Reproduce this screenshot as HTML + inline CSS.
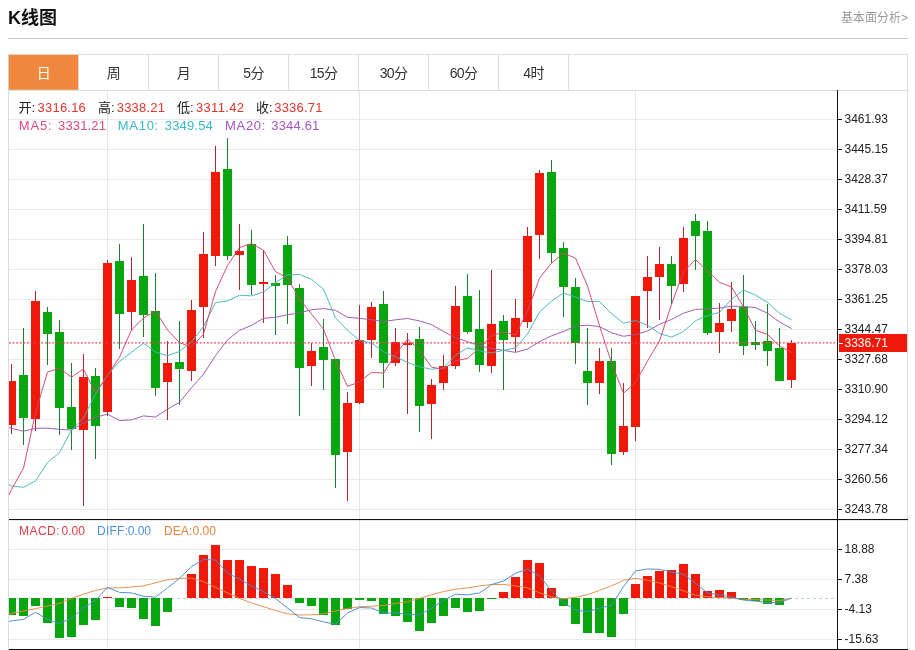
<!DOCTYPE html>
<html lang="zh-CN"><head><meta charset="utf-8"><title>K线图</title>
<style>
html,body{margin:0;padding:0;background:#fff;}
body{width:915px;height:650px;overflow:hidden;position:relative;font-family:"Liberation Sans","Noto Sans CJK SC",sans-serif;}
svg{position:absolute;left:0;top:0;display:block;}
text{font-family:"Liberation Sans","Noto Sans CJK SC",sans-serif;}
.ax{font-size:12px;fill:#222;}
.tab{font-size:14px;fill:#333;text-anchor:middle;letter-spacing:-0.7px;}
.lg{font-size:13px;}
.mg{font-size:12px;}
</style></head><body>
<svg width="915" height="650" viewBox="0 0 915 650">
<defs><clipPath id="cp"><rect x="9" y="91" width="828" height="558"/></clipPath></defs>
<text x="8" y="23.6" font-size="18" font-weight="bold" fill="#111">K线图</text>
<text x="908" y="21.5" font-size="12" fill="#999" text-anchor="end">基本面分析&gt;</text>
<rect x="8" y="38" width="900" height="1" fill="#c8c8c8"/>
<rect x="8" y="54" width="900" height="1" fill="#dcdcdc"/>
<rect x="8" y="54" width="1" height="596" fill="#d9dcdf"/>
<rect x="907" y="54" width="1" height="596" fill="#dcdcdc"/>
<rect x="8" y="90" width="900" height="1" fill="#dcdcdc"/>
<rect x="8.8" y="54.9" width="69.2" height="34.9" fill="#f0873c"/>
<rect x="78" y="55" width="1" height="35" fill="#dcdcdc"/>
<text class="tab" x="43.5" y="77.5" style="fill:#fff">日</text>
<rect x="148" y="55" width="1" height="35" fill="#dcdcdc"/>
<text class="tab" x="113.5" y="77.5" style="fill:#333">周</text>
<rect x="218" y="55" width="1" height="35" fill="#dcdcdc"/>
<text class="tab" x="183.5" y="77.5" style="fill:#333">月</text>
<rect x="288" y="55" width="1" height="35" fill="#dcdcdc"/>
<text class="tab" x="253.5" y="77.5" style="fill:#333">5分</text>
<rect x="358" y="55" width="1" height="35" fill="#dcdcdc"/>
<text class="tab" x="323.5" y="77.5" style="fill:#333">15分</text>
<rect x="428" y="55" width="1" height="35" fill="#dcdcdc"/>
<text class="tab" x="393.5" y="77.5" style="fill:#333">30分</text>
<rect x="498" y="55" width="1" height="35" fill="#dcdcdc"/>
<text class="tab" x="463.5" y="77.5" style="fill:#333">60分</text>
<rect x="568" y="55" width="1" height="35" fill="#dcdcdc"/>
<text class="tab" x="533.5" y="77.5" style="fill:#333">4时</text>
<rect x="9" y="119" width="828" height="1" fill="#e9e9e9"/>
<rect x="9" y="149" width="828" height="1" fill="#e9e9e9"/>
<rect x="9" y="179" width="828" height="1" fill="#e9e9e9"/>
<rect x="9" y="209" width="828" height="1" fill="#e9e9e9"/>
<rect x="9" y="239" width="828" height="1" fill="#e9e9e9"/>
<rect x="9" y="269" width="828" height="1" fill="#e9e9e9"/>
<rect x="9" y="299" width="828" height="1" fill="#e9e9e9"/>
<rect x="9" y="329" width="828" height="1" fill="#e9e9e9"/>
<rect x="9" y="359" width="828" height="1" fill="#e9e9e9"/>
<rect x="9" y="389" width="828" height="1" fill="#e9e9e9"/>
<rect x="9" y="419" width="828" height="1" fill="#e9e9e9"/>
<rect x="9" y="449" width="828" height="1" fill="#e9e9e9"/>
<rect x="9" y="479" width="828" height="1" fill="#e9e9e9"/>
<rect x="9" y="509" width="828" height="1" fill="#e9e9e9"/>
<rect x="9" y="549" width="828" height="1" fill="#e9e9e9"/>
<rect x="9" y="579" width="828" height="1" fill="#e9e9e9"/>
<rect x="9" y="609" width="828" height="1" fill="#e9e9e9"/>
<rect x="9" y="639" width="828" height="1" fill="#e9e9e9"/>
<rect x="107" y="91" width="1" height="558" fill="#dfe6ee"/>
<rect x="359" y="91" width="1" height="558" fill="#dfe6ee"/>
<rect x="635" y="91" width="1" height="558" fill="#dfe6ee"/>
<line x1="9" y1="598.5" x2="837" y2="598.5" stroke="#bfd5e6" stroke-width="1" stroke-dasharray="3,3"/>
<g clip-path="url(#cp)">
<g shape-rendering="crispEdges">
<rect x="11" y="364" width="1" height="70" fill="#b3262b"/>
<rect x="7" y="381" width="9" height="44" fill="#f01808"/>
<rect x="23" y="328" width="1" height="117" fill="#1f7f30"/>
<rect x="19" y="375" width="9" height="43" fill="#07a60e"/>
<rect x="35" y="291" width="1" height="140" fill="#b3262b"/>
<rect x="31" y="301" width="9" height="118" fill="#f01808"/>
<rect x="47" y="307" width="1" height="58" fill="#1f7f30"/>
<rect x="43" y="312" width="9" height="22" fill="#07a60e"/>
<rect x="59" y="320" width="1" height="115" fill="#1f7f30"/>
<rect x="55" y="332" width="9" height="76" fill="#07a60e"/>
<rect x="71" y="363" width="1" height="87" fill="#1f7f30"/>
<rect x="67" y="407" width="9" height="22" fill="#07a60e"/>
<rect x="83" y="354" width="1" height="152" fill="#b3262b"/>
<rect x="79" y="377" width="9" height="53" fill="#f01808"/>
<rect x="95" y="368" width="1" height="91" fill="#1f7f30"/>
<rect x="91" y="376" width="9" height="50" fill="#07a60e"/>
<rect x="107" y="260" width="1" height="156" fill="#b3262b"/>
<rect x="103" y="263" width="9" height="149" fill="#f01808"/>
<rect x="119" y="244" width="1" height="105" fill="#1f7f30"/>
<rect x="115" y="261" width="9" height="53" fill="#07a60e"/>
<rect x="131" y="257" width="1" height="73" fill="#b3262b"/>
<rect x="127" y="280" width="9" height="32" fill="#f01808"/>
<rect x="143" y="224" width="1" height="113" fill="#1f7f30"/>
<rect x="139" y="276" width="9" height="39" fill="#07a60e"/>
<rect x="155" y="273" width="1" height="123" fill="#1f7f30"/>
<rect x="151" y="311" width="9" height="77" fill="#07a60e"/>
<rect x="167" y="341" width="1" height="79" fill="#b3262b"/>
<rect x="163" y="363" width="9" height="19" fill="#f01808"/>
<rect x="179" y="321" width="1" height="84" fill="#1f7f30"/>
<rect x="175" y="362" width="9" height="7" fill="#07a60e"/>
<rect x="191" y="300" width="1" height="81" fill="#b3262b"/>
<rect x="187" y="310" width="9" height="61" fill="#f01808"/>
<rect x="203" y="232" width="1" height="106" fill="#b3262b"/>
<rect x="199" y="254" width="9" height="53" fill="#f01808"/>
<rect x="215" y="146" width="1" height="120" fill="#b3262b"/>
<rect x="211" y="172" width="9" height="84" fill="#f01808"/>
<rect x="227" y="138" width="1" height="122" fill="#1f7f30"/>
<rect x="223" y="169" width="9" height="87" fill="#07a60e"/>
<rect x="239" y="224" width="1" height="66" fill="#b3262b"/>
<rect x="235" y="251" width="9" height="4" fill="#f01808"/>
<rect x="251" y="230" width="1" height="65" fill="#1f7f30"/>
<rect x="247" y="244" width="9" height="41" fill="#07a60e"/>
<rect x="263" y="250" width="1" height="73" fill="#b3262b"/>
<rect x="259" y="282" width="9" height="2" fill="#f01808"/>
<rect x="275" y="275" width="1" height="60" fill="#1f7f30"/>
<rect x="271" y="283" width="9" height="3" fill="#07a60e"/>
<rect x="287" y="236" width="1" height="88" fill="#1f7f30"/>
<rect x="283" y="245" width="9" height="40" fill="#07a60e"/>
<rect x="299" y="284" width="1" height="132" fill="#1f7f30"/>
<rect x="295" y="288" width="9" height="80" fill="#07a60e"/>
<rect x="311" y="343" width="1" height="43" fill="#b3262b"/>
<rect x="307" y="351" width="9" height="15" fill="#f01808"/>
<rect x="323" y="319" width="1" height="71" fill="#1f7f30"/>
<rect x="319" y="347" width="9" height="13" fill="#07a60e"/>
<rect x="335" y="359" width="1" height="129" fill="#1f7f30"/>
<rect x="331" y="359" width="9" height="96" fill="#07a60e"/>
<rect x="347" y="392" width="1" height="109" fill="#b3262b"/>
<rect x="343" y="403" width="9" height="49" fill="#f01808"/>
<rect x="359" y="305" width="1" height="99" fill="#b3262b"/>
<rect x="355" y="340" width="9" height="63" fill="#f01808"/>
<rect x="371" y="302" width="1" height="56" fill="#b3262b"/>
<rect x="367" y="307" width="9" height="33" fill="#f01808"/>
<rect x="383" y="291" width="1" height="97" fill="#1f7f30"/>
<rect x="379" y="304" width="9" height="59" fill="#07a60e"/>
<rect x="395" y="328" width="1" height="38" fill="#b3262b"/>
<rect x="391" y="342" width="9" height="21" fill="#f01808"/>
<rect x="407" y="333" width="1" height="81" fill="#b3262b"/>
<rect x="403" y="343" width="9" height="2" fill="#f01808"/>
<rect x="419" y="327" width="1" height="105" fill="#1f7f30"/>
<rect x="415" y="339" width="9" height="67" fill="#07a60e"/>
<rect x="431" y="379" width="1" height="60" fill="#b3262b"/>
<rect x="427" y="385" width="9" height="19" fill="#f01808"/>
<rect x="443" y="355" width="1" height="35" fill="#b3262b"/>
<rect x="439" y="366" width="9" height="17" fill="#f01808"/>
<rect x="455" y="286" width="1" height="83" fill="#b3262b"/>
<rect x="451" y="306" width="9" height="60" fill="#f01808"/>
<rect x="467" y="274" width="1" height="60" fill="#1f7f30"/>
<rect x="463" y="296" width="9" height="36" fill="#07a60e"/>
<rect x="479" y="290" width="1" height="82" fill="#1f7f30"/>
<rect x="475" y="329" width="9" height="36" fill="#07a60e"/>
<rect x="491" y="270" width="1" height="103" fill="#b3262b"/>
<rect x="487" y="324" width="9" height="42" fill="#f01808"/>
<rect x="503" y="315" width="1" height="75" fill="#1f7f30"/>
<rect x="499" y="321" width="9" height="19" fill="#07a60e"/>
<rect x="515" y="299" width="1" height="53" fill="#b3262b"/>
<rect x="511" y="318" width="9" height="19" fill="#f01808"/>
<rect x="527" y="227" width="1" height="101" fill="#b3262b"/>
<rect x="523" y="236" width="9" height="86" fill="#f01808"/>
<rect x="539" y="170" width="1" height="89" fill="#b3262b"/>
<rect x="535" y="173" width="9" height="62" fill="#f01808"/>
<rect x="551" y="160" width="1" height="103" fill="#1f7f30"/>
<rect x="547" y="172" width="9" height="81" fill="#07a60e"/>
<rect x="563" y="242" width="1" height="75" fill="#1f7f30"/>
<rect x="559" y="248" width="9" height="39" fill="#07a60e"/>
<rect x="575" y="278" width="1" height="86" fill="#1f7f30"/>
<rect x="571" y="287" width="9" height="56" fill="#07a60e"/>
<rect x="587" y="328" width="1" height="77" fill="#1f7f30"/>
<rect x="583" y="371" width="9" height="12" fill="#07a60e"/>
<rect x="599" y="348" width="1" height="46" fill="#b3262b"/>
<rect x="595" y="361" width="9" height="22" fill="#f01808"/>
<rect x="611" y="348" width="1" height="117" fill="#1f7f30"/>
<rect x="607" y="361" width="9" height="93" fill="#07a60e"/>
<rect x="623" y="383" width="1" height="72" fill="#b3262b"/>
<rect x="619" y="426" width="9" height="26" fill="#f01808"/>
<rect x="635" y="296" width="1" height="145" fill="#b3262b"/>
<rect x="631" y="296" width="9" height="131" fill="#f01808"/>
<rect x="647" y="256" width="1" height="72" fill="#b3262b"/>
<rect x="643" y="277" width="9" height="14" fill="#f01808"/>
<rect x="659" y="247" width="1" height="73" fill="#b3262b"/>
<rect x="655" y="264" width="9" height="13" fill="#f01808"/>
<rect x="671" y="256" width="1" height="48" fill="#1f7f30"/>
<rect x="667" y="264" width="9" height="22" fill="#07a60e"/>
<rect x="683" y="227" width="1" height="65" fill="#b3262b"/>
<rect x="679" y="238" width="9" height="46" fill="#f01808"/>
<rect x="695" y="214" width="1" height="56" fill="#1f7f30"/>
<rect x="691" y="221" width="9" height="15" fill="#07a60e"/>
<rect x="707" y="221" width="1" height="114" fill="#1f7f30"/>
<rect x="703" y="231" width="9" height="102" fill="#07a60e"/>
<rect x="719" y="303" width="1" height="50" fill="#b3262b"/>
<rect x="715" y="323" width="9" height="9" fill="#f01808"/>
<rect x="731" y="282" width="1" height="50" fill="#b3262b"/>
<rect x="727" y="309" width="9" height="12" fill="#f01808"/>
<rect x="743" y="275" width="1" height="80" fill="#1f7f30"/>
<rect x="739" y="307" width="9" height="39" fill="#07a60e"/>
<rect x="755" y="321" width="1" height="29" fill="#1f7f30"/>
<rect x="751" y="342" width="9" height="3" fill="#07a60e"/>
<rect x="767" y="304" width="1" height="62" fill="#1f7f30"/>
<rect x="763" y="341" width="9" height="10" fill="#07a60e"/>
<rect x="779" y="328" width="1" height="53" fill="#1f7f30"/>
<rect x="775" y="348" width="9" height="33" fill="#07a60e"/>
<rect x="791" y="340" width="1" height="48" fill="#b3262b"/>
<rect x="787" y="343" width="9" height="37" fill="#f01808"/>
</g>
<line x1="9" y1="342.9" x2="837" y2="342.9" stroke="#ee3c58" stroke-width="1.3" stroke-dasharray="1.8,1.8"/>
<polyline points="-0.5,425.0 11.5,428.3 23.5,431.2 35.5,428.4 47.5,428.2 59.5,429.4 71.5,430.0 83.5,422.9 95.5,417.4 107.5,414.1 119.5,420.6 131.5,419.9 143.5,415.9 155.5,417.1 167.5,409.1 179.5,402.3 191.5,387.7 203.5,374.2 215.5,355.5 227.5,339.9 239.5,330.4 251.5,325.4 263.5,318.3 275.5,317.3 287.5,314.8 299.5,312.8 311.5,309.8 323.5,308.5 335.5,310.3 347.5,317.3 359.5,318.3 371.5,319.8 383.5,321.6 395.5,319.8 407.5,318.5 419.5,320.9 431.5,324.6 443.5,331.5 455.5,337.8 467.5,341.6 479.5,345.9 491.5,348.4 503.5,350.4 515.5,352.4 527.5,349.1 539.5,341.6 551.5,335.8 563.5,331.5 575.5,326.0 587.5,325.2 599.5,326.6 611.5,332.8 623.5,336.3 635.5,334.5 647.5,331.0 659.5,324.3 671.5,319.5 683.5,313.2 695.5,309.4 707.5,308.9 719.5,308.1 731.5,306.1 743.5,306.4 755.5,307.6 767.5,313.2 779.5,322.0 791.5,328.5" fill="none" stroke="#9858ae" stroke-width="0.95" stroke-linejoin="round"/>
<polyline points="-0.5,479.0 11.5,486.0 23.5,487.3 35.5,481.0 47.5,462.4 59.5,452.6 71.5,430.0 83.5,417.9 95.5,394.0 107.5,375.1 119.5,361.4 131.5,352.2 143.5,343.2 155.5,352.0 167.5,355.7 179.5,351.5 191.5,341.9 203.5,326.7 215.5,302.5 227.5,301.0 239.5,295.2 251.5,295.9 263.5,292.0 275.5,282.6 287.5,274.8 299.5,274.5 311.5,279.2 323.5,289.2 335.5,317.8 347.5,330.4 359.5,340.4 371.5,343.0 383.5,351.8 395.5,356.8 407.5,362.4 419.5,366.7 431.5,369.3 443.5,368.0 455.5,355.4 467.5,347.9 479.5,350.9 491.5,352.9 503.5,350.4 515.5,347.9 527.5,334.0 539.5,312.0 551.5,301.1 563.5,293.0 575.5,297.0 587.5,301.5 599.5,301.4 611.5,313.5 623.5,323.3 635.5,320.6 647.5,325.2 659.5,333.5 671.5,337.1 683.5,331.5 695.5,320.7 707.5,315.7 719.5,312.4 731.5,299.4 743.5,290.0 755.5,295.1 767.5,302.4 779.5,313.2 791.5,320.0" fill="none" stroke="#45b5ba" stroke-width="0.95" stroke-linejoin="round"/>
<polyline points="-0.5,515.0 11.5,489.5 23.5,468.1 35.5,412.8 47.5,372.0 59.5,368.2 71.5,377.1 83.5,369.0 95.5,392.7 107.5,375.5 119.5,357.2 131.5,329.9 143.5,318.0 155.5,311.0 167.5,329.9 179.5,342.7 191.5,347.0 203.5,334.0 215.5,291.5 227.5,265.5 239.5,247.6 251.5,243.6 263.5,250.2 275.5,271.6 287.5,278.0 299.5,299.0 311.5,314.0 323.5,329.1 335.5,360.6 347.5,386.4 359.5,381.9 371.5,372.4 383.5,373.1 395.5,354.3 407.5,339.2 419.5,349.8 431.5,367.2 443.5,369.2 455.5,360.9 467.5,358.4 479.5,347.9 491.5,335.8 503.5,332.0 515.5,334.8 527.5,311.2 539.5,278.2 551.5,263.1 563.5,253.1 575.5,258.1 587.5,286.0 599.5,325.7 611.5,363.0 623.5,393.2 635.5,382.6 647.5,361.0 659.5,340.8 671.5,304.4 683.5,271.7 695.5,259.6 707.5,270.9 719.5,282.5 731.5,286.8 743.5,306.9 755.5,330.3 767.5,334.5 779.5,345.9 791.5,352.5" fill="none" stroke="#d6436f" stroke-width="0.95" stroke-linejoin="round"/>
<g shape-rendering="crispEdges">
<rect x="7" y="598" width="9" height="17" fill="#07a60e"/>
<rect x="19" y="598" width="9" height="18" fill="#07a60e"/>
<rect x="31" y="598" width="9" height="8" fill="#07a60e"/>
<rect x="43" y="598" width="9" height="25" fill="#07a60e"/>
<rect x="55" y="598" width="9" height="40" fill="#07a60e"/>
<rect x="67" y="598" width="9" height="39" fill="#07a60e"/>
<rect x="79" y="598" width="9" height="27" fill="#07a60e"/>
<rect x="91" y="598" width="9" height="22" fill="#07a60e"/>
<rect x="103" y="597" width="9" height="1" fill="#f01808"/>
<rect x="115" y="598" width="9" height="9" fill="#07a60e"/>
<rect x="127" y="598" width="9" height="10" fill="#07a60e"/>
<rect x="139" y="598" width="9" height="21" fill="#07a60e"/>
<rect x="151" y="598" width="9" height="28" fill="#07a60e"/>
<rect x="163" y="598" width="9" height="14" fill="#07a60e"/>
<rect x="187" y="574" width="9" height="24" fill="#f01808"/>
<rect x="199" y="555" width="9" height="43" fill="#f01808"/>
<rect x="211" y="545" width="9" height="53" fill="#f01808"/>
<rect x="223" y="560" width="9" height="38" fill="#f01808"/>
<rect x="235" y="560" width="9" height="38" fill="#f01808"/>
<rect x="247" y="566" width="9" height="32" fill="#f01808"/>
<rect x="259" y="568" width="9" height="30" fill="#f01808"/>
<rect x="271" y="574" width="9" height="24" fill="#f01808"/>
<rect x="283" y="585" width="9" height="13" fill="#f01808"/>
<rect x="295" y="598" width="9" height="5" fill="#07a60e"/>
<rect x="307" y="598" width="9" height="8" fill="#07a60e"/>
<rect x="319" y="598" width="9" height="17" fill="#07a60e"/>
<rect x="331" y="598" width="9" height="27" fill="#07a60e"/>
<rect x="343" y="598" width="9" height="11" fill="#07a60e"/>
<rect x="355" y="598" width="9" height="2" fill="#07a60e"/>
<rect x="367" y="598" width="9" height="3" fill="#07a60e"/>
<rect x="379" y="598" width="9" height="16" fill="#07a60e"/>
<rect x="391" y="598" width="9" height="18" fill="#07a60e"/>
<rect x="403" y="598" width="9" height="24" fill="#07a60e"/>
<rect x="415" y="598" width="9" height="33" fill="#07a60e"/>
<rect x="427" y="598" width="9" height="25" fill="#07a60e"/>
<rect x="439" y="598" width="9" height="18" fill="#07a60e"/>
<rect x="451" y="598" width="9" height="10" fill="#07a60e"/>
<rect x="463" y="598" width="9" height="14" fill="#07a60e"/>
<rect x="475" y="598" width="9" height="13" fill="#07a60e"/>
<rect x="487" y="598" width="9" height="1" fill="#07a60e"/>
<rect x="499" y="592" width="9" height="6" fill="#f01808"/>
<rect x="511" y="577" width="9" height="21" fill="#f01808"/>
<rect x="523" y="560" width="9" height="38" fill="#f01808"/>
<rect x="535" y="563" width="9" height="35" fill="#f01808"/>
<rect x="547" y="588" width="9" height="10" fill="#f01808"/>
<rect x="559" y="598" width="9" height="8" fill="#07a60e"/>
<rect x="571" y="598" width="9" height="26" fill="#07a60e"/>
<rect x="583" y="598" width="9" height="35" fill="#07a60e"/>
<rect x="595" y="598" width="9" height="35" fill="#07a60e"/>
<rect x="607" y="598" width="9" height="39" fill="#07a60e"/>
<rect x="619" y="598" width="9" height="16" fill="#07a60e"/>
<rect x="631" y="584" width="9" height="14" fill="#f01808"/>
<rect x="643" y="576" width="9" height="22" fill="#f01808"/>
<rect x="655" y="571" width="9" height="27" fill="#f01808"/>
<rect x="667" y="570" width="9" height="28" fill="#f01808"/>
<rect x="679" y="564" width="9" height="34" fill="#f01808"/>
<rect x="691" y="574" width="9" height="24" fill="#f01808"/>
<rect x="703" y="591" width="9" height="7" fill="#f01808"/>
<rect x="715" y="590" width="9" height="8" fill="#f01808"/>
<rect x="727" y="592" width="9" height="6" fill="#f01808"/>
<rect x="739" y="598" width="9" height="2" fill="#07a60e"/>
<rect x="751" y="598" width="9" height="3" fill="#07a60e"/>
<rect x="763" y="598" width="9" height="6" fill="#07a60e"/>
<rect x="775" y="598" width="9" height="7" fill="#07a60e"/>
</g>
<polyline points="-0.5,615.0 11.5,613.3 23.5,611.0 35.5,608.7 47.5,606.0 59.5,603.5 71.5,598.4 83.5,594.2 95.5,590.4 107.5,587.9 119.5,587.9 131.5,587.1 143.5,585.9 155.5,582.8 167.5,579.8 179.5,578.3 191.5,578.3 203.5,581.6 215.5,587.4 227.5,592.9 239.5,598.4 251.5,603.0 263.5,606.7 275.5,610.5 287.5,613.8 299.5,615.0 311.5,614.8 323.5,613.8 335.5,611.0 347.5,608.5 359.5,606.7 371.5,606.2 383.5,605.5 395.5,603.5 407.5,601.7 419.5,598.4 431.5,594.7 443.5,591.6 455.5,589.1 467.5,587.9 479.5,585.9 491.5,584.6 503.5,584.4 515.5,585.9 527.5,587.9 539.5,592.8 551.5,596.8 563.5,598.7 575.5,597.4 587.5,594.7 599.5,590.4 611.5,585.9 623.5,580.3 635.5,578.3 647.5,580.3 659.5,583.0 671.5,586.6 683.5,590.9 695.5,595.2 707.5,596.7 719.5,597.4 731.5,598.4 743.5,599.2 755.5,599.7 767.5,600.0 779.5,600.6 791.5,598.2" fill="none" stroke="#ea8a42" stroke-width="0.95" stroke-linejoin="round"/>
<polyline points="-0.5,622.0 11.5,621.0 23.5,619.3 35.5,612.3 47.5,619.3 59.5,623.8 71.5,618.0 83.5,608.0 95.5,600.4 107.5,587.4 119.5,592.4 131.5,592.9 143.5,596.2 155.5,597.2 167.5,587.9 179.5,578.3 191.5,566.5 203.5,559.5 215.5,560.0 227.5,573.0 239.5,579.1 251.5,585.9 263.5,591.6 275.5,598.4 287.5,608.0 299.5,617.5 311.5,618.8 323.5,621.8 335.5,624.3 347.5,613.0 359.5,607.5 371.5,608.0 383.5,613.0 395.5,613.0 407.5,614.3 419.5,615.0 431.5,608.0 443.5,600.4 455.5,594.2 467.5,594.9 479.5,592.9 491.5,584.6 503.5,581.1 515.5,573.3 527.5,569.0 539.5,575.8 551.5,591.1 563.5,602.5 575.5,610.0 587.5,611.8 599.5,608.0 611.5,605.5 623.5,586.6 635.5,571.0 647.5,569.0 659.5,569.3 671.5,572.2 683.5,574.3 695.5,583.0 707.5,593.1 719.5,594.9 731.5,596.9 743.5,600.1 755.5,601.1 767.5,602.7 779.5,602.4 791.5,598.2" fill="none" stroke="#4b8acb" stroke-width="0.95" stroke-linejoin="round"/>
</g>
<rect x="9" y="519" width="899" height="1.1" fill="#111"/>
<rect x="9" y="649" width="899" height="1" fill="#111"/>
<rect x="837" y="90" width="1" height="560" fill="#111"/>
<rect x="838" y="119" width="4" height="1" fill="#111"/>
<text class="ax" x="844.5" y="122.6">3461.93</text>
<rect x="838" y="149" width="4" height="1" fill="#111"/>
<text class="ax" x="844.5" y="152.6">3445.15</text>
<rect x="838" y="179" width="4" height="1" fill="#111"/>
<text class="ax" x="844.5" y="182.6">3428.37</text>
<rect x="838" y="209" width="4" height="1" fill="#111"/>
<text class="ax" x="844.5" y="212.6">3411.59</text>
<rect x="838" y="239" width="4" height="1" fill="#111"/>
<text class="ax" x="844.5" y="242.6">3394.81</text>
<rect x="838" y="269" width="4" height="1" fill="#111"/>
<text class="ax" x="844.5" y="272.6">3378.03</text>
<rect x="838" y="299" width="4" height="1" fill="#111"/>
<text class="ax" x="844.5" y="302.6">3361.25</text>
<rect x="838" y="329" width="4" height="1" fill="#111"/>
<text class="ax" x="844.5" y="332.6">3344.47</text>
<rect x="838" y="359" width="4" height="1" fill="#111"/>
<text class="ax" x="844.5" y="362.6">3327.68</text>
<rect x="838" y="389" width="4" height="1" fill="#111"/>
<text class="ax" x="844.5" y="392.6">3310.90</text>
<rect x="838" y="419" width="4" height="1" fill="#111"/>
<text class="ax" x="844.5" y="422.6">3294.12</text>
<rect x="838" y="449" width="4" height="1" fill="#111"/>
<text class="ax" x="844.5" y="452.6">3277.34</text>
<rect x="838" y="479" width="4" height="1" fill="#111"/>
<text class="ax" x="844.5" y="482.6">3260.56</text>
<rect x="838" y="509" width="4" height="1" fill="#111"/>
<text class="ax" x="844.5" y="512.6">3243.78</text>
<rect x="838" y="549" width="4" height="1" fill="#111"/>
<text class="ax" x="844.5" y="552.6">18.88</text>
<rect x="838" y="579" width="4" height="1" fill="#111"/>
<text class="ax" x="844.5" y="582.6">7.38</text>
<rect x="838" y="609" width="4" height="1" fill="#111"/>
<text class="ax" x="844.5" y="612.6">-4.13</text>
<rect x="838" y="639" width="4" height="1" fill="#111"/>
<text class="ax" x="844.5" y="642.6">-15.63</text>
<rect x="839" y="334" width="68" height="18" fill="#f01808"/>
<rect x="839" y="343" width="4" height="1" fill="#fff"/>
<text class="ax" x="844.5" y="346.6" style="fill:#fff">3336.71</text>
<text class="lg" y="111.7"><tspan x="18.5" fill="#222">开:</tspan><tspan x="37.6" fill="#e0352b" textLength="48.2" lengthAdjust="spacing">3316.16</tspan><tspan x="98" fill="#222">高:</tspan><tspan x="116.7" fill="#e0352b" textLength="48.2" lengthAdjust="spacing">3338.21</tspan><tspan x="177" fill="#222">低:</tspan><tspan x="195.9" fill="#e0352b" textLength="48.2" lengthAdjust="spacing">3311.42</tspan><tspan x="256" fill="#222">收:</tspan><tspan x="274.2" fill="#e0352b" textLength="48.2" lengthAdjust="spacing">3336.71</tspan></text>
<text class="lg" y="129.6"><tspan x="18.8" fill="#e2477f" textLength="32.8" lengthAdjust="spacing">MA5:</tspan><tspan x="58" fill="#e2477f" textLength="48" lengthAdjust="spacing">3331.21</tspan><tspan x="117.8" fill="#35b8c2" textLength="40.4" lengthAdjust="spacing">MA10:</tspan><tspan x="164.8" fill="#35b8c2" textLength="48" lengthAdjust="spacing">3349.54</tspan><tspan x="225" fill="#a455c4" textLength="40.4" lengthAdjust="spacing">MA20:</tspan><tspan x="271.3" fill="#a455c4" textLength="48" lengthAdjust="spacing">3344.61</tspan></text>
<text class="mg" y="534.6"><tspan x="19" fill="#dc3c44" textLength="40.5" lengthAdjust="spacing">MACD:</tspan><tspan x="61.6" fill="#dc3c44">0.00</tspan><tspan x="97" fill="#4a90d9" textLength="31" lengthAdjust="spacing">DIFF:</tspan><tspan x="127.7" fill="#4a90d9">0.00</tspan><tspan x="164" fill="#e8823c" textLength="28.2" lengthAdjust="spacing">DEA:</tspan><tspan x="192.6" fill="#e8823c">0.00</tspan></text>
</svg>
</body></html>
